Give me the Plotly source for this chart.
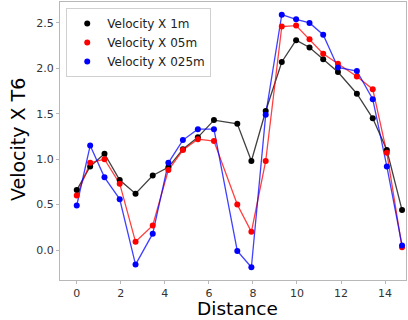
import plotly.graph_objects as go

distance = [0.0, 0.61, 1.26, 1.95, 2.67, 3.45, 4.16, 4.82, 5.5, 6.23, 7.29,
            7.93, 8.58, 9.31, 9.96, 10.57, 11.19, 11.86, 12.72, 13.44, 14.08, 14.77]

vel_1m = [0.66, 0.92, 1.06, 0.77, 0.62, 0.82, 0.91, 1.11, 1.24, 1.43, 1.39,
          0.98, 1.53, 2.07, 2.31, 2.23, 2.10, 1.96, 1.72, 1.45, 1.10, 0.44]
vel_05m = [0.60, 0.96, 1.00, 0.73, 0.09, 0.27, 0.88, 1.10, 1.22, 1.20, 0.50,
           0.20, 0.98, 2.46, 2.47, 2.32, 2.16, 2.05, 1.91, 1.77, 1.07, 0.03]
vel_025m = [0.49, 1.15, 0.80, 0.56, -0.16, 0.18, 0.96, 1.21, 1.33, 1.33, -0.01,
            -0.19, 1.49, 2.59, 2.54, 2.50, 2.37, 2.01, 1.97, 1.66, 0.92, 0.05]

series = [
    ("Velocity X 1m", vel_1m, "black", "rgba(0,0,0,0.75)"),
    ("Velocity X 05m", vel_05m, "red", "rgba(255,0,0,0.75)"),
    ("Velocity X 025m", vel_025m, "blue", "rgba(0,0,255,0.75)"),
]

fig = go.Figure()
for name, vals, col, lcol in series:
    fig.add_trace(go.Scatter(x=distance, y=vals, mode="lines",
                             line=dict(color=lcol, width=1.3),
                             showlegend=False, hoverinfo="skip"))
for name, vals, col, lcol in series:
    fig.add_trace(go.Scatter(x=distance, y=vals, mode="markers", name=name,
                             marker=dict(color=col, size=6)))

axis_common = dict(
    showgrid=False, zeroline=False, showline=True, mirror=True,
    linecolor="#b8b8b8", linewidth=1.2, automargin=False,
    ticks="outside", ticklen=3, tickcolor="#b8b8b8",
    tickfont=dict(family="DejaVu Sans", size=11, color="#333333"),
)

fig.update_layout(
    width=408, height=320,
    margin=dict(l=60, r=2, t=2, b=40),
    paper_bgcolor="white", plot_bgcolor="white",
    font=dict(family="DejaVu Sans"),
    xaxis=dict(range=[-0.76, 14.95], tickvals=[0, 2, 4, 6, 8, 10, 12, 14],
               **axis_common),
    yaxis=dict(range=[-0.33, 2.73], tickvals=[0, 0.5, 1.0, 1.5, 2.0, 2.5],
               tickformat=".1f", **axis_common),
    legend=dict(x=0.018, y=0.978, xanchor="left", yanchor="top",
                bgcolor="rgba(255,255,255,0.8)", bordercolor="#d0d0d0", borderwidth=1,
                font=dict(size=12, color="#222222"), itemwidth=30,
                tracegroupgap=0),
    annotations=[
        dict(text="Distance", xref="paper", yref="paper", x=0.514, y=-0.1043,
             xanchor="center", yanchor="middle", showarrow=False,
             font=dict(size=18.5, color="black")),
        dict(text="Velocity X T6", xref="paper", yref="paper", x=-0.121, y=0.504,
             xanchor="center", yanchor="middle", showarrow=False, textangle=-90,
             font=dict(size=19, color="black")),
    ],
)

# the page body has a default margin; remove it so the figure sits at 0,0
fig.write_html("out.html", config={"displayModeBar": False},
               post_script="document.body.style.margin='0';")
